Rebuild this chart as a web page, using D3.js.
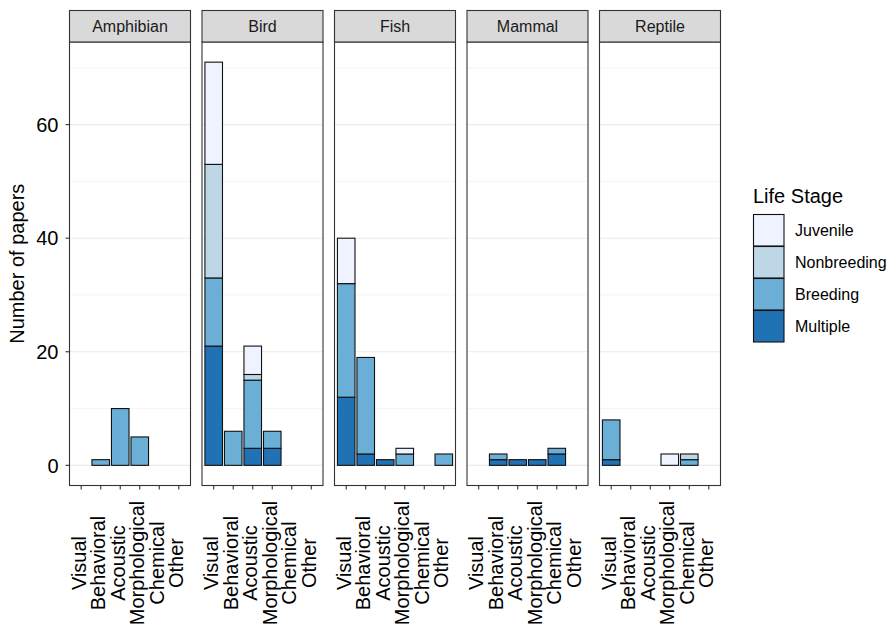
<!DOCTYPE html>
<html>
<head>
<meta charset="utf-8">
<script src="https://d3js.org/d3.v7.min.js"></script>
<style>
  body { margin: 0; background: #fff; }
  svg { font-family: "Liberation Sans", Arial, sans-serif; }
</style>
</head>
<body>
<svg width="890" height="638"></svg>
<script>
// facets, x categories, life stages (bottom of stack first)
var taxa = ['Amphibian', 'Bird', 'Fish', 'Mammal', 'Reptile'];
var cues = ['Visual', 'Behavioral', 'Acoustic', 'Morphological', 'Chemical', 'Other'];
var stages = ['Multiple', 'Breeding', 'Nonbreeding', 'Juvenile'];
var stageColors = ['#2171B5', '#6BAED6', '#BDD7E7', '#EFF3FF'];
var legendOrder = ['Juvenile', 'Nonbreeding', 'Breeding', 'Multiple'];

// counts per taxon (rows) per cue (cols)
var multiple = [
  [0, 0, 0, 0, 0, 0],
  [21, 0, 3, 3, 0, 0],
  [12, 2, 1, 0, 0, 0],
  [0, 1, 1, 1, 2, 0],
  [1, 0, 0, 0, 0, 0]
];
var breeding = [
  [0, 1, 10, 5, 0, 0],
  [12, 6, 12, 3, 0, 0],
  [20, 17, 0, 2, 0, 2],
  [0, 1, 0, 0, 1, 0],
  [7, 0, 0, 0, 1, 0]
];
var nonbreeding = [
  [0, 0, 0, 0, 0, 0],
  [20, 0, 1, 0, 0, 0],
  [0, 0, 0, 0, 0, 0],
  [0, 0, 0, 0, 0, 0],
  [0, 0, 0, 0, 1, 0]
];
var juvenile = [
  [0, 0, 0, 0, 0, 0],
  [18, 0, 5, 0, 0, 0],
  [8, 0, 0, 1, 0, 0],
  [0, 0, 0, 0, 0, 0],
  [0, 0, 0, 2, 0, 0]
];
var yTicks = [0, 20, 40, 60];
var yMinor = [10, 30, 50, 70];

var byStage = { Multiple: multiple, Breeding: breeding, Nonbreeding: nonbreeding, Juvenile: juvenile };

var svg = d3.select('svg');
var L = 69.5, PW = 121, GAP = 11.5, T = 42, B = 485.5, ST = 10.5;

var color = d3.scaleOrdinal().domain(stages).range(stageColors);

// y: max 71 with 5% expansion
var y = d3.scaleLinear().domain([-3.55, 74.55]).range([B, T]);

// x: discrete positions 1..6 with 0.6 expansion
var xi = d3.scaleLinear().domain([0.4, 6.6]).range([0, PW]);

taxa.forEach(function (taxon, t) {
  var px = L + t * (PW + GAP);
  var g = svg.append('g').attr('transform', 'translate(' + px + ',0)');

  // grid
  g.selectAll('.minor').data(yMinor).enter().append('line')
    .attr('x1', 0).attr('x2', PW)
    .attr('y1', function (d) { return y(d); }).attr('y2', function (d) { return y(d); })
    .attr('stroke', '#EBEBEB').attr('stroke-width', 0.55);
  g.selectAll('.major').data(yTicks).enter().append('line')
    .attr('x1', 0).attr('x2', PW)
    .attr('y1', function (d) { return y(d); }).attr('y2', function (d) { return y(d); })
    .attr('stroke', '#EBEBEB').attr('stroke-width', 1.1);

  // stacked bars
  var rows = cues.map(function (c, i) {
    var r = { cue: c, i: i };
    stages.forEach(function (s) { r[s] = byStage[s][t][i]; });
    return r;
  });
  var series = d3.stack().keys(stages)(rows);
  series.forEach(function (s) {
    g.selectAll('.b' + s.key).data(s.filter(function (d) { return d[1] > d[0]; }))
      .enter().append('rect')
      .attr('x', function (d) { return xi(d.data.i + 1 - 0.45); })
      .attr('width', xi(1.45) - xi(0.55))
      .attr('y', function (d) { return y(d[1]); })
      .attr('height', function (d) { return y(d[0]) - y(d[1]); })
      .attr('fill', color(s.key))
      .attr('stroke', '#111').attr('stroke-width', 1.1);
  });

  // panel border
  g.append('rect').attr('x', 0).attr('y', T).attr('width', PW).attr('height', B - T)
    .attr('fill', 'none').attr('stroke', '#333').attr('stroke-width', 1.1);

  // strip
  g.append('rect').attr('x', 0).attr('y', ST).attr('width', PW).attr('height', T - ST)
    .attr('fill', '#D9D9D9').attr('stroke', '#333').attr('stroke-width', 1.1);
  g.append('text').attr('x', PW / 2).attr('y', (ST + T) / 2).attr('dy', '0.36em')
    .attr('text-anchor', 'middle').attr('font-size', 16).attr('fill', '#1A1A1A')
    .text(taxon);

  // x ticks and labels
  cues.forEach(function (c, i) {
    var cx = xi(i + 1);
    g.append('line').attr('x1', cx).attr('x2', cx).attr('y1', B).attr('y2', B + 4)
      .attr('stroke', '#333').attr('stroke-width', 1.1);
    g.append('text')
      .attr('transform', 'translate(' + cx + ',563) rotate(-90)')
      .attr('dy', '0.22em').attr('text-anchor', 'middle')
      .attr('font-size', 20).attr('fill', '#000')
      .text(c);
  });
});

// y axis
var yAxis = svg.append('g');
yTicks.forEach(function (v) {
  yAxis.append('line').attr('x1', L - 4).attr('x2', L).attr('y1', y(v)).attr('y2', y(v))
    .attr('stroke', '#333').attr('stroke-width', 1.1);
  yAxis.append('text').attr('x', L - 11).attr('y', y(v)).attr('dy', '0.36em')
    .attr('text-anchor', 'end').attr('font-size', 20).attr('fill', '#000')
    .text(v);
});
svg.append('text')
  .attr('transform', 'translate(17,' + ((T + B) / 2) + ') rotate(-90)')
  .attr('dy', '0.36em').attr('text-anchor', 'middle').attr('font-size', 20)
  .text('Number of papers');

// legend
var lg = svg.append('g').attr('transform', 'translate(753,0)');
lg.append('text').attr('x', 0).attr('y', 203).attr('font-size', 20).text('Life Stage');
legendOrder.forEach(function (s, i) {
  var ky = 214.5 + i * 32;
  lg.append('rect').attr('x', 0.5).attr('y', ky).attr('width', 30.5).attr('height', 31.5)
    .attr('fill', color(s)).attr('stroke', '#111').attr('stroke-width', 1.1);
  lg.append('text').attr('x', 42).attr('y', ky + 16).attr('dy', '0.36em')
    .attr('font-size', 16).text(s);
});
</script>
</body>
</html>
